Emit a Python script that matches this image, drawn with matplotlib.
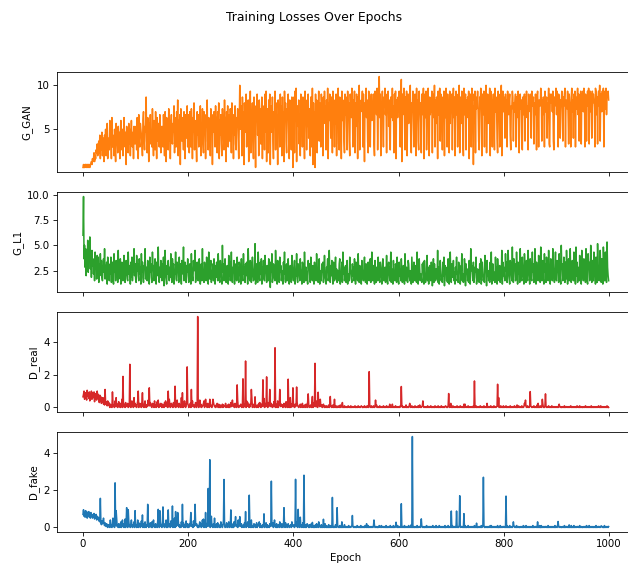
import numpy as np
import matplotlib.pyplot as plt

# values are coded one character per epoch: value = index in ALPHA * step
ALPHA = "0123456789ABCDEFGHIJKLMNOPQRSTUVWXYZabcdefghijklmnopqrstuvwxyz"

# G_GAN, step 1/3
g_gan_rows = [
    "2322332323 3232334354 5746587A69 B7D5C8E6AC 4D9F6BH5CA",
    "8IBE5J9DC6 FA4HCB7G9E 5DIA8F6CJB 9E3GBD7HAF 6CIB9E5GDA",
    "CG8JE5KB9H FDA6ILC8GE QB7JF4HDKA E9MC6IG8LD 5JBHE9KC7F",
    "GC9KE6LH4J DF8MBI5GKC AHEN7JC9LF P6IDK3MGBJ E8LH5KCFN9",
    "KF7LC9MH5J EO8IGB4LDK 9JFN6HCMA7 LEI5KGPB8J DH6MFK3IEL",
    "G9NCJ7LFO5 IDKA6MHE8P CJ4LGN9FKB MH7OEI5KDN A8JGMC5IUF",
    "KN6QHL3OJE R9MGP4KIS7 LFOB5QJH2N IRDL6PGMAK Q5NHJ8RES4",
    "MG7PKR3NIE QB5LHS8OGK 3PJM9RFN6Q HL4SIOB7MK RE5PGN8QJ2",
    "MQ7SIT4NLG PAK6RHO9QJ E5SLN8PGRC MI6QK9T3OH L2RFP7NJSB",
    "OJ9RML6QHS KN8PGT5OIR MCQK7SJN9P HR6OLTA8QJ N5SIPMB7RK",
    "QH8SKOB6RM JTN9PLS7OG RK5QIU8NLP MS9RH4OKTJ PB7SLQ9NRI",
    "OJRA6SMQKT 8NPXJR6OLS H9QNTKO7RL SGPB8QMJTI N7RKS5POJQ",
    "LSH9OW4RKP TJ8QMS6NRH PKUA7OLSI9 QRN6TJPB8S LOH7RQKT5N",
    "RJS8PMTA6Q KOLS7RNJU9 PHQM5SKOTB RIN8QLS6PJ TM9RKO7SHQ",
    "LR8NTJQ6OS KP9RMU7LQH SNA6TKOR8P JQMS5ORL9T KN3RPS7QMO",
    "SLB8QNTJ6R OKS9PMU7LR HQNT6SKP9O RJ8TLQNC7S MP9RKU6OSL",
    "QNCRLP9SOK PRD8NMSQBO LOR9QJMSC7 NRMPA8QKPR BQOSJN8RMP",
    "LRCSPNQAOK RM8QSL9PON TRBPKQN9SL NQCOMTA9RP ORLSB8QNOT",
    "KSP9RQMCPO SLBQNRT9PO MSKAROO9QT LPCRNS9QMO TKRBOQSARN",
    "SLTQ9RPBOS NTAQSLRCSO RPM9TSKQAQ SNUBRQLSPT 9OSMTKRQSP",
]

# G_L1, step 1/6
g_l1_rows = [
    "axMUHSCQFX EPKZGOBRIM DL9QGKAOEN 8JCPFLB9HM ESAIDK7NFJ",
    "9HDN8FKB7P EJ9LCG8RAI FM7DKB9HOC 8GLEA9QDIF 7KBN9HESCJ",
    "A8OFJC9MDH 7PEKB8IGSA DH9LFC7NEJ B8QGI9DMA7 KFCTE8HBLD",
    "9JGN6CRFA7 IDLE9HBPC8 MGJ7FDQA9K EH8NCJB7LF DT9GKA8IEM",
    "C8HJE7PDB9 LGFR8CIKA9 EMD7HJ9SBF 8KGC9NEI7Q DAHL8FCJ9M",
    "E7IBKD9PGA 8LHC7UEJ9F MB8DIG7OCK 9FQA8HEL7J DC9NGB8KIE",
    "7MFA9PDH8J CKE7SGB9LI 8DNF9AHV7C JE8QGB9KDM 7HCLA9OEF8",
    "IB9MDG5KEP 8CJFA9RHD7 LGB8NEI9CF 7KDQA8HJ9E MC7GIB8OFD",
    "9HL7ECPA8J GD9MBF7KIC 8QE9HDA7LG JC8NFB9IE7 KDA9PGC8HM",
    "7FB9JEK8CO DA7HGM9BRF 8ICLE7KD9H NAG8FC9JM7 EBK8QDH9CI",
    "8FL7DB9NGE A8JCH9ME7K FB9PD8IGA7 LEC9HNB8JF 7DKA9GM8EQ",
    "C9IF7LB8HD 9NEA8KGC7J MF9BH8DOA7 IKE9CQ8GF7 LDB9JH8NEA",
    "7KCG9MF8BI D7PE9HA8LJ C9FD7NG8BK E9IA8QC7HM F9DB8JEK7L",
    "G8CAO9H7EI D9KF6BM8JC 9GEAR8H7DL F9B8KCN6IE H9A8MD7GQC",
    "8JFBL9E7HD N9A8KGI7CF P9D8BMH6JE G9C8LA7SFI D9K8BHEN7C",
    "G9F8JAM7DK E9B8OHI6LC F9D8KAQ7GJ C9E8NBH7MF D9I8GAR7KC",
    "HB9PFK8DRG A7LIE9TC8M GJ9BQF7KDH 8SEA9NGC7P IF8LB9RHD7",
    "MGA9QEJ8CS H7KDB9OFI8 TC9GLA7PEJ 8NHD9RBF7M KE9SGC8IQA",
    "9LFH8PDB7U GJ9CNE8KAR F7HM9DSB8I LE9QGA7TCK 8HF9ODJ7RB",
    "G9MEC8SIA7 PHK9DUF8LB 9QGE7NC8VJ A9HRF8MD7T K9EQB8WHC9",
]

# D_real baseline, step 0.05
d_real_rows = [
    "DGKAFIC9LE HBJ8GDKAIF CJ7HBE9KCG A6F8D5B7C4 6395472836",
    "2041302513 0826140371 2051A03142 0613250417 3028140C25",
    "1304820351 4072130581 0314920263 1052408130 2719041352",
    "0413062815 2031A40251 3062140319 1405230C12 0418302615",
    "3021504182 1302610453 0291402135 8031240512 0A13204163",
    "1203152041 0301240312 1502130410 2613021405 1302810213",
    "4102601351 0826130415 2C03140812 0310516204 1302B05130",
    "2061403152 0317130420 8013051423 0251307140 1302C02415",
    "3104120621 0214031502 1301420714 0213062051 4018120632",
    "1021302410 2102101301 0120130210 1201021013 0121010201",
    "1010210102 0110101201 0102101012 1001021010 2103010120",
    "1021010130 1010210101 0210101201 1012010140 1010210101",
    "0102101201 0101301010 2010120101 0210101201 3010120101",
    "0101021010 1201010102 1010120101 0210101012 1010201015",
    "0102101010 1201010210 1010104101 0120101010 1020101201",
    "0101021010 1020101030 1010120101 0210101201 1010210102",
    "0101201010 1020101010 2101030120 1010201015 3010120101",
    "0210101201 0103010102 1010401020 1010120101 0210101010",
    "1010201010 0101020101 1010101201 0101010102 1010201010",
    "0101021010 1010102010 0101010101 2010101010 1010102010",
]
d_real_peak_epochs = [42, 56, 63, 76, 89, 105, 113, 126, 162, 175, 189, 198, 206,
                      218, 233, 247, 284, 293, 304, 309, 320, 327, 342, 349, 355,
                      365, 374, 390, 399, 406, 428, 436, 441, 447, 451, 470, 478,
                      493, 544, 556, 583, 605, 621, 646, 695, 724, 744, 768, 788,
                      790, 841, 850, 865, 873, 879, 905, 984]
d_real_peak_values = [1.1, 0.95, 0.6, 1.9, 2.64, 1.0, 0.9, 1.2, 1.0, 1.3, 0.9, 2.48, 1.1,
                      5.56, 0.5, 0.5, 0.45, 1.38, 1.75, 2.84, 1.1, 0.65, 1.69, 1.87, 1.1,
                      3.65, 1.1, 1.73, 1.2, 1.25, 0.83, 0.67, 2.7, 0.93, 0.5, 0.67, 0.5,
                      0.3, 2.19, 0.45, 0.2, 1.28, 0.25, 0.4, 0.85, 0.2, 1.62, 0.25, 1.42,
                      0.6, 0.45, 0.97, 0.25, 0.5, 0.83, 0.2, 0.1]

# D_fake baseline, step 0.05
d_fake_rows = [
    "EJCGBIDHAF CHBFAGCEAD BF9DAE8C9B 7A6853746A 4253142031",
    "3081204A13 0520913041 0360281402 9051302713 0482031605",
    "1302805140 2713042061 0314903152 0602813041 3071402513",
    "0621304180 3052140713 2041A03152 0813020614 1503207140",
    "2041602130 7130524102 0361402819 0214031602 1305C12041",
    "3021405130 2061302814 0125031602 1304020615 0213081302",
    "1402130521 0316201403 8012041302 5013260410 2031402150",
    "3012041302 1502813040 2130612041 0213051302 4102130621",
    "1302041603 1204130250 2103014120 3021403102 0130412031",
    "2013010210 4102010301 0210120101 3010201020 1020101301",
    "0101021010 1201010101 0210101020 1010102101 0120101010",
    "1010201010 0102101201 1010102010 0101201010 2010101020",
    "1010120101 0201010102 1010301010 0101020101 1020101010",
    "0102010101 1010120101 0201010210 1010101020 0101201010",
    "1020101010 0101020101 1010102010 0120101010 1010201020",
    "0101010201 1020101010 0101202010 1010101020 0102010101",
    "1010102010 0201010101 1010201010 0101010201 1020101010",
    "0101020101 1010101020 0201010101 1010201010 0101010201",
    "1020101010 0101020101 1010101020 0102010101 1010201010",
    "0101010201 1020101010 0101020101 1010101010 0201010101",
]
d_fake_peak_epochs = [33, 61, 63, 83, 86, 99, 113, 123, 143, 146, 152, 162, 170, 176,
                      180, 189, 205, 213, 233, 238, 241, 250, 268, 281, 290, 298,
                      309, 316, 344, 358, 382, 404, 409, 413, 420, 436, 448, 457,
                      474, 483, 492, 512, 539, 553, 595, 605, 626, 643, 700, 710,
                      716, 724, 748, 761, 804, 818, 864, 903, 924, 985]
d_fake_peak_values = [1.56, 2.39, 0.9, 1.06, 0.95, 0.9, 0.67, 1.24, 0.97, 0.9, 1.1, 0.94,
                      1.15, 0.85, 0.8, 1.24, 0.8, 1.24, 0.8, 2.09, 3.63, 0.5, 2.57, 0.94,
                      0.58, 0.58, 0.85, 1.73, 0.73, 2.48, 1.06, 2.58, 0.97, 0.55, 2.8,
                      0.27, 0.3, 0.44, 1.61, 1.06, 0.3, 0.64, 0.2, 0.4, 0.28, 1.27, 4.87,
                      0.46, 0.88, 0.88, 1.7, 0.74, 0.23, 2.69, 1.68, 0.3, 0.3, 0.32,
                      0.14, 0.09]


def decode(rows, step):
    s = "".join(rows).replace(" ", "")
    return np.array([ALPHA.index(c) for c in s]) * step


g_gan = decode(g_gan_rows, 1 / 3)
g_l1 = decode(g_l1_rows, 1 / 6)
d_real = decode(d_real_rows, 0.05)
d_real[d_real_peak_epochs] = d_real_peak_values
d_fake = decode(d_fake_rows, 0.05)
d_fake[d_fake_peak_epochs] = d_fake_peak_values

series = [(g_gan, "G_GAN", "tab:orange"), (g_l1, "G_L1", "tab:green"),
          (d_real, "D_real", "tab:red"), (d_fake, "D_fake", "tab:blue")]

# the reference looks like a larger figure shrunk down, so draw at a low dpi
DPI = 74
fig, axes = plt.subplots(4, 1, figsize=(628 / DPI, 565 / DPI), dpi=DPI, sharex=True)
for ax, (vals, name, col) in zip(axes, series):
    ax.plot(np.arange(len(vals)), vals, color=col)
    ax.set_ylabel(name)
axes[-1].set_xlabel("Epoch")
axes[-1].set_xticks([0, 200, 400, 600, 800, 1000])
fig.suptitle("Training Losses Over Epochs")
fig.subplots_adjust(left=0.0903, right=1.011, top=0.8726, bottom=0.0584, hspace=0.2)
fig.savefig("out.png", dpi=DPI)
